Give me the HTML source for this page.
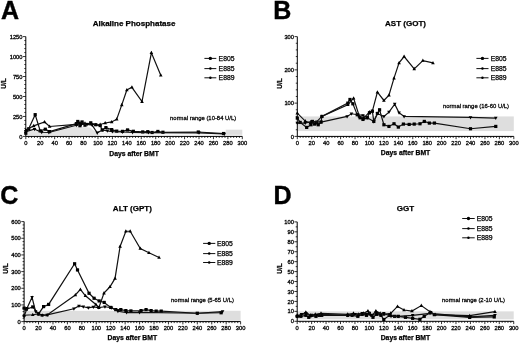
<!DOCTYPE html>
<html><head><meta charset="utf-8"><style>
html,body{margin:0;padding:0;background:#fff;}
body{width:520px;height:343px;overflow:hidden;}
svg{display:block;filter:grayscale(1) blur(0.45px);}
text{font-family:"Liberation Sans", sans-serif;fill:#000;}
.tk{font-size:6.0px;stroke:#000;stroke-width:0.3px;}
.let{font-size:25px;font-weight:bold;stroke:#000;stroke-width:0.4px;}
.ttl{font-size:8px;font-weight:bold;stroke:#000;stroke-width:0.25px;}
.xl{font-size:6.8px;font-weight:bold;stroke:#000;stroke-width:0.25px;}
.ul{font-size:6.5px;font-weight:bold;stroke:#000;stroke-width:0.25px;}
.nr{font-size:5.9px;stroke:#000;stroke-width:0.25px;}
.lg{font-size:6.8px;stroke:#000;stroke-width:0.25px;}
</style></head><body>
<svg width="520" height="343" viewBox="0 0 520 343">
<rect width="520" height="343" fill="#fff"/>
<rect x="225.71" y="129.69" width="16.60" height="5.11" fill="#dedede"/>
<rect x="97.25" y="132.4" width="128.46" height="2.2" fill="#f0f0f0"/>
<polygon points="26,135.5 26,131 47,131.5 72,126 90,127.5 97,133 100,135.5" fill="#e3e3e3"/>
<polyline points="25.80,133.21 28.69,128.82 35.18,114.68 40.23,130.89 45.29,129.21 49.62,131.61 76.32,123.63 77.76,121.47 79.93,125.70 82.09,121.95 84.98,125.22 90.75,122.83 95.80,124.74 100.14,125.54 102.30,130.01 105.91,127.62 111.68,129.61 116.73,131.13 122.51,131.37 127.56,129.93 133.33,131.29 142.72,131.93 147.77,131.69 152.10,132.49 157.87,131.45 162.92,132.25 198.29,132.01 223.55,133.53" fill="none" stroke="#111" stroke-width="1.2"/>
<rect x="24.20" y="131.61" width="3.2" height="3.2" fill="#000"/>
<rect x="27.09" y="127.22" width="3.2" height="3.2" fill="#000"/>
<rect x="33.58" y="113.08" width="3.2" height="3.2" fill="#000"/>
<rect x="38.63" y="129.29" width="3.2" height="3.2" fill="#000"/>
<rect x="43.69" y="127.61" width="3.2" height="3.2" fill="#000"/>
<rect x="48.02" y="130.01" width="3.2" height="3.2" fill="#000"/>
<rect x="74.72" y="122.03" width="3.2" height="3.2" fill="#000"/>
<rect x="76.16" y="119.87" width="3.2" height="3.2" fill="#000"/>
<rect x="78.33" y="124.10" width="3.2" height="3.2" fill="#000"/>
<rect x="80.49" y="120.35" width="3.2" height="3.2" fill="#000"/>
<rect x="83.38" y="123.62" width="3.2" height="3.2" fill="#000"/>
<rect x="89.15" y="121.23" width="3.2" height="3.2" fill="#000"/>
<rect x="94.20" y="123.14" width="3.2" height="3.2" fill="#000"/>
<rect x="98.54" y="123.94" width="3.2" height="3.2" fill="#000"/>
<rect x="100.70" y="128.41" width="3.2" height="3.2" fill="#000"/>
<rect x="104.31" y="126.02" width="3.2" height="3.2" fill="#000"/>
<rect x="110.08" y="128.01" width="3.2" height="3.2" fill="#000"/>
<rect x="115.13" y="129.53" width="3.2" height="3.2" fill="#000"/>
<rect x="120.91" y="129.77" width="3.2" height="3.2" fill="#000"/>
<rect x="125.96" y="128.33" width="3.2" height="3.2" fill="#000"/>
<rect x="131.73" y="129.69" width="3.2" height="3.2" fill="#000"/>
<rect x="141.12" y="130.33" width="3.2" height="3.2" fill="#000"/>
<rect x="146.17" y="130.09" width="3.2" height="3.2" fill="#000"/>
<rect x="150.50" y="130.89" width="3.2" height="3.2" fill="#000"/>
<rect x="156.27" y="129.85" width="3.2" height="3.2" fill="#000"/>
<rect x="161.32" y="130.65" width="3.2" height="3.2" fill="#000"/>
<rect x="196.69" y="130.41" width="3.2" height="3.2" fill="#000"/>
<rect x="221.95" y="131.93" width="3.2" height="3.2" fill="#000"/>
<polyline points="25.80,130.01 33.74,125.86 44.56,122.03 49.62,126.50 76.32,124.42 79.93,122.83 84.98,123.23 90.75,123.63 95.80,124.82 100.14,124.50 105.19,122.99 111.68,121.95 116.73,119.15 121.79,104.86 126.84,90.01 131.89,87.30 141.99,101.59 151.38,52.81 160.76,75.16" fill="none" stroke="#111" stroke-width="1.2"/>
<path d="M25.80,128.01 L27.60,131.31 L24.00,131.31Z" fill="#000"/>
<path d="M33.74,123.86 L35.54,127.16 L31.94,127.16Z" fill="#000"/>
<path d="M44.56,120.03 L46.36,123.33 L42.76,123.33Z" fill="#000"/>
<path d="M49.62,124.50 L51.42,127.80 L47.82,127.80Z" fill="#000"/>
<path d="M76.32,122.42 L78.12,125.72 L74.52,125.72Z" fill="#000"/>
<path d="M79.93,120.83 L81.73,124.13 L78.13,124.13Z" fill="#000"/>
<path d="M84.98,121.23 L86.78,124.53 L83.18,124.53Z" fill="#000"/>
<path d="M90.75,121.63 L92.55,124.93 L88.95,124.93Z" fill="#000"/>
<path d="M95.80,122.82 L97.60,126.12 L94.00,126.12Z" fill="#000"/>
<path d="M100.14,122.50 L101.94,125.80 L98.34,125.80Z" fill="#000"/>
<path d="M105.19,120.99 L106.99,124.29 L103.39,124.29Z" fill="#000"/>
<path d="M111.68,119.95 L113.48,123.25 L109.88,123.25Z" fill="#000"/>
<path d="M116.73,117.15 L118.53,120.45 L114.93,120.45Z" fill="#000"/>
<path d="M121.79,102.86 L123.59,106.16 L119.99,106.16Z" fill="#000"/>
<path d="M126.84,88.01 L128.64,91.31 L125.04,91.31Z" fill="#000"/>
<path d="M131.89,85.30 L133.69,88.60 L130.09,88.60Z" fill="#000"/>
<path d="M141.99,99.59 L143.79,102.89 L140.19,102.89Z" fill="#000"/>
<path d="M151.38,50.81 L153.18,54.11 L149.58,54.11Z" fill="#000"/>
<path d="M160.76,73.16 L162.56,76.46 L158.96,76.46Z" fill="#000"/>
<polyline points="25.80,131.61 34.46,129.21 41.68,132.25 48.89,132.49 76.32,125.22 81.37,124.42 87.14,124.42 92.20,125.22 97.25,132.89 102.30,130.01 107.35,130.81 112.40,131.61 122.51,132.01 132.61,132.41 148.49,132.57 199.01,132.81 224.27,134.00" fill="none" stroke="#111" stroke-width="1.2"/>
<path d="M25.80,133.61 L27.60,130.31 L24.00,130.31Z" fill="#000"/>
<path d="M34.46,131.21 L36.26,127.91 L32.66,127.91Z" fill="#000"/>
<path d="M41.68,134.25 L43.48,130.95 L39.88,130.95Z" fill="#000"/>
<path d="M48.89,134.49 L50.69,131.19 L47.09,131.19Z" fill="#000"/>
<path d="M76.32,127.22 L78.12,123.92 L74.52,123.92Z" fill="#000"/>
<path d="M81.37,126.42 L83.17,123.12 L79.57,123.12Z" fill="#000"/>
<path d="M87.14,126.42 L88.94,123.12 L85.34,123.12Z" fill="#000"/>
<path d="M92.20,127.22 L94.00,123.92 L90.40,123.92Z" fill="#000"/>
<path d="M97.25,134.89 L99.05,131.59 L95.45,131.59Z" fill="#000"/>
<path d="M102.30,132.01 L104.10,128.71 L100.50,128.71Z" fill="#000"/>
<path d="M107.35,132.81 L109.15,129.51 L105.55,129.51Z" fill="#000"/>
<path d="M112.40,133.61 L114.20,130.31 L110.60,130.31Z" fill="#000"/>
<path d="M122.51,134.01 L124.31,130.71 L120.71,130.71Z" fill="#000"/>
<path d="M132.61,134.41 L134.41,131.11 L130.81,131.11Z" fill="#000"/>
<path d="M148.49,134.57 L150.29,131.27 L146.69,131.27Z" fill="#000"/>
<path d="M199.01,134.81 L200.81,131.51 L197.21,131.51Z" fill="#000"/>
<path d="M224.27,136.00 L226.07,132.70 L222.47,132.70Z" fill="#000"/>
<path d="M25.80,36.60 V136.40 H242.31" fill="none" stroke="#000" stroke-width="1"/>
<text transform="translate(22.50,138.50) scale(0.96,1)" text-anchor="end" class="tk">0</text>
<text transform="translate(22.50,118.54) scale(0.96,1)" text-anchor="end" class="tk">250</text>
<text transform="translate(22.50,98.58) scale(0.96,1)" text-anchor="end" class="tk">500</text>
<text transform="translate(22.50,78.62) scale(0.96,1)" text-anchor="end" class="tk">750</text>
<text transform="translate(22.50,58.66) scale(0.96,1)" text-anchor="end" class="tk">1000</text>
<text transform="translate(22.50,38.70) scale(0.96,1)" text-anchor="end" class="tk">1250</text>
<text transform="translate(25.80,145.20) scale(0.96,1)" text-anchor="middle" class="tk">0</text>
<text transform="translate(40.23,145.20) scale(0.96,1)" text-anchor="middle" class="tk">20</text>
<text transform="translate(54.67,145.20) scale(0.96,1)" text-anchor="middle" class="tk">40</text>
<text transform="translate(69.10,145.20) scale(0.96,1)" text-anchor="middle" class="tk">60</text>
<text transform="translate(83.54,145.20) scale(0.96,1)" text-anchor="middle" class="tk">80</text>
<text transform="translate(97.97,145.20) scale(0.96,1)" text-anchor="middle" class="tk">100</text>
<text transform="translate(112.40,145.20) scale(0.96,1)" text-anchor="middle" class="tk">120</text>
<text transform="translate(126.84,145.20) scale(0.96,1)" text-anchor="middle" class="tk">140</text>
<text transform="translate(141.27,145.20) scale(0.96,1)" text-anchor="middle" class="tk">160</text>
<text transform="translate(155.71,145.20) scale(0.96,1)" text-anchor="middle" class="tk">180</text>
<text transform="translate(170.14,145.20) scale(0.96,1)" text-anchor="middle" class="tk">200</text>
<text transform="translate(184.57,145.20) scale(0.96,1)" text-anchor="middle" class="tk">220</text>
<text transform="translate(199.01,145.20) scale(0.96,1)" text-anchor="middle" class="tk">240</text>
<text transform="translate(213.44,145.20) scale(0.96,1)" text-anchor="middle" class="tk">260</text>
<text transform="translate(227.88,145.20) scale(0.96,1)" text-anchor="middle" class="tk">280</text>
<text transform="translate(242.31,145.20) scale(0.96,1)" text-anchor="middle" class="tk">300</text>
<path d="M23.00,136.40H25.80 M24.30,132.41H25.80 M24.30,128.42H25.80 M24.30,124.42H25.80 M24.30,120.43H25.80 M23.00,116.44H25.80 M24.30,112.45H25.80 M24.30,108.46H25.80 M24.30,104.46H25.80 M24.30,100.47H25.80 M23.00,96.48H25.80 M24.30,92.49H25.80 M24.30,88.50H25.80 M24.30,84.50H25.80 M24.30,80.51H25.80 M23.00,76.52H25.80 M24.30,72.53H25.80 M24.30,68.54H25.80 M24.30,64.54H25.80 M24.30,60.55H25.80 M23.00,56.56H25.80 M24.30,52.57H25.80 M24.30,48.58H25.80 M24.30,44.58H25.80 M24.30,40.59H25.80 M23.00,36.60H25.80 M25.80,136.40V139.20 M28.69,136.40V137.90 M31.57,136.40V137.90 M34.46,136.40V137.90 M37.35,136.40V137.90 M40.23,136.40V139.20 M43.12,136.40V137.90 M46.01,136.40V137.90 M48.89,136.40V137.90 M51.78,136.40V137.90 M54.67,136.40V139.20 M57.55,136.40V137.90 M60.44,136.40V137.90 M63.33,136.40V137.90 M66.22,136.40V137.90 M69.10,136.40V139.20 M71.99,136.40V137.90 M74.88,136.40V137.90 M77.76,136.40V137.90 M80.65,136.40V137.90 M83.54,136.40V139.20 M86.42,136.40V137.90 M89.31,136.40V137.90 M92.20,136.40V137.90 M95.08,136.40V137.90 M97.97,136.40V139.20 M100.86,136.40V137.90 M103.74,136.40V137.90 M106.63,136.40V137.90 M109.52,136.40V137.90 M112.40,136.40V139.20 M115.29,136.40V137.90 M118.18,136.40V137.90 M121.06,136.40V137.90 M123.95,136.40V137.90 M126.84,136.40V139.20 M129.72,136.40V137.90 M132.61,136.40V137.90 M135.50,136.40V137.90 M138.39,136.40V137.90 M141.27,136.40V139.20 M144.16,136.40V137.90 M147.05,136.40V137.90 M149.93,136.40V137.90 M152.82,136.40V137.90 M155.71,136.40V139.20 M158.59,136.40V137.90 M161.48,136.40V137.90 M164.37,136.40V137.90 M167.25,136.40V137.90 M170.14,136.40V139.20 M173.03,136.40V137.90 M175.91,136.40V137.90 M178.80,136.40V137.90 M181.69,136.40V137.90 M184.57,136.40V139.20 M187.46,136.40V137.90 M190.35,136.40V137.90 M193.23,136.40V137.90 M196.12,136.40V137.90 M199.01,136.40V139.20 M201.89,136.40V137.90 M204.78,136.40V137.90 M207.67,136.40V137.90 M210.56,136.40V137.90 M213.44,136.40V139.20 M216.33,136.40V137.90 M219.22,136.40V137.90 M222.10,136.40V137.90 M224.99,136.40V137.90 M227.88,136.40V139.20 M230.76,136.40V137.90 M233.65,136.40V137.90 M236.54,136.40V137.90 M239.42,136.40V137.90 M242.31,136.40V139.20" stroke="#000" stroke-width="0.8" fill="none"/>
<text x="1.0" y="19.3" class="let">A</text>
<text x="134.06" y="26.3" text-anchor="middle" class="ttl">Alkaline Phosphatase</text>
<text x="134.06" y="155.8" text-anchor="middle" class="xl">Days after BMT</text>
<text transform="translate(5.6,83.5) rotate(-90)" text-anchor="middle" class="ul">U/L</text>
<text transform="translate(170.1,120.0) scale(1,1.06)" class="nr">normal range (10-84 U/L)</text>
<path d="M204.4,58.4H216.3" stroke="#111" stroke-width="1"/>
<circle cx="210.35" cy="58.40" r="1.7" fill="#000"/>
<text x="218.6" y="60.80" class="lg">E805</text>
<path d="M204.4,68.6H216.3" stroke="#111" stroke-width="1"/>
<circle cx="210.35" cy="68.60" r="1.25" fill="#000"/>
<text x="218.6" y="71.00" class="lg">E885</text>
<path d="M204.4,77.8H216.3" stroke="#111" stroke-width="1"/>
<circle cx="210.35" cy="77.80" r="1.25" fill="#000"/>
<text x="218.6" y="80.20" class="lg">E889</text>
<rect x="297.30" y="116.44" width="216.51" height="14.64" fill="#dedede"/>
<polyline points="297.30,118.10 300.19,122.43 306.68,127.42 311.01,124.76 312.46,121.43 314.62,124.09 316.79,122.10 318.23,124.76 321.12,122.10 321.84,116.44 347.82,103.13 349.98,99.47 352.87,103.80 357.20,114.78 360.09,117.77 362.97,119.43 367.30,117.77 369.47,112.78 372.36,111.12 373.80,121.43 377.41,113.45 379.57,109.79 383.90,124.76 388.96,126.42 394.01,123.76 398.34,127.09 403.39,124.09 409.16,124.42 414.22,124.09 419.99,123.76 424.32,121.43 429.37,123.09 434.42,123.09 470.51,128.75 495.77,126.42" fill="none" stroke="#111" stroke-width="1.2"/>
<rect x="295.70" y="116.50" width="3.2" height="3.2" fill="#000"/>
<rect x="298.59" y="120.83" width="3.2" height="3.2" fill="#000"/>
<rect x="305.08" y="125.82" width="3.2" height="3.2" fill="#000"/>
<rect x="309.41" y="123.16" width="3.2" height="3.2" fill="#000"/>
<rect x="310.86" y="119.83" width="3.2" height="3.2" fill="#000"/>
<rect x="313.02" y="122.49" width="3.2" height="3.2" fill="#000"/>
<rect x="315.19" y="120.50" width="3.2" height="3.2" fill="#000"/>
<rect x="316.63" y="123.16" width="3.2" height="3.2" fill="#000"/>
<rect x="319.52" y="120.50" width="3.2" height="3.2" fill="#000"/>
<rect x="320.24" y="114.84" width="3.2" height="3.2" fill="#000"/>
<rect x="346.22" y="101.53" width="3.2" height="3.2" fill="#000"/>
<rect x="348.38" y="97.87" width="3.2" height="3.2" fill="#000"/>
<rect x="351.27" y="102.20" width="3.2" height="3.2" fill="#000"/>
<rect x="355.60" y="113.18" width="3.2" height="3.2" fill="#000"/>
<rect x="358.49" y="116.17" width="3.2" height="3.2" fill="#000"/>
<rect x="361.37" y="117.83" width="3.2" height="3.2" fill="#000"/>
<rect x="365.70" y="116.17" width="3.2" height="3.2" fill="#000"/>
<rect x="367.87" y="111.18" width="3.2" height="3.2" fill="#000"/>
<rect x="370.76" y="109.52" width="3.2" height="3.2" fill="#000"/>
<rect x="372.20" y="119.83" width="3.2" height="3.2" fill="#000"/>
<rect x="375.81" y="111.85" width="3.2" height="3.2" fill="#000"/>
<rect x="377.97" y="108.19" width="3.2" height="3.2" fill="#000"/>
<rect x="382.30" y="123.16" width="3.2" height="3.2" fill="#000"/>
<rect x="387.36" y="124.82" width="3.2" height="3.2" fill="#000"/>
<rect x="392.41" y="122.16" width="3.2" height="3.2" fill="#000"/>
<rect x="396.74" y="125.49" width="3.2" height="3.2" fill="#000"/>
<rect x="401.79" y="122.49" width="3.2" height="3.2" fill="#000"/>
<rect x="407.56" y="122.82" width="3.2" height="3.2" fill="#000"/>
<rect x="412.62" y="122.49" width="3.2" height="3.2" fill="#000"/>
<rect x="418.39" y="122.16" width="3.2" height="3.2" fill="#000"/>
<rect x="422.72" y="119.83" width="3.2" height="3.2" fill="#000"/>
<rect x="427.77" y="121.49" width="3.2" height="3.2" fill="#000"/>
<rect x="432.82" y="121.49" width="3.2" height="3.2" fill="#000"/>
<rect x="468.91" y="127.15" width="3.2" height="3.2" fill="#000"/>
<rect x="494.17" y="124.82" width="3.2" height="3.2" fill="#000"/>
<polyline points="297.30,113.11 305.24,121.10 310.29,123.09 315.34,123.09 321.84,116.44 347.82,104.80 353.59,98.14 359.37,116.44 363.70,118.10 369.47,112.12 372.36,111.12 377.41,92.16 383.90,100.47 388.96,95.15 394.01,78.18 399.06,62.88 404.11,56.56 414.22,68.87 422.88,60.55 432.98,62.88" fill="none" stroke="#111" stroke-width="1.2"/>
<path d="M297.30,111.11 L299.10,114.41 L295.50,114.41Z" fill="#000"/>
<path d="M305.24,119.10 L307.04,122.40 L303.44,122.40Z" fill="#000"/>
<path d="M310.29,121.09 L312.09,124.39 L308.49,124.39Z" fill="#000"/>
<path d="M315.34,121.09 L317.14,124.39 L313.54,124.39Z" fill="#000"/>
<path d="M321.84,114.44 L323.64,117.74 L320.04,117.74Z" fill="#000"/>
<path d="M347.82,102.80 L349.62,106.10 L346.02,106.10Z" fill="#000"/>
<path d="M353.59,96.14 L355.39,99.44 L351.79,99.44Z" fill="#000"/>
<path d="M359.37,114.44 L361.17,117.74 L357.57,117.74Z" fill="#000"/>
<path d="M363.70,116.10 L365.50,119.40 L361.90,119.40Z" fill="#000"/>
<path d="M369.47,110.12 L371.27,113.42 L367.67,113.42Z" fill="#000"/>
<path d="M372.36,109.12 L374.16,112.42 L370.56,112.42Z" fill="#000"/>
<path d="M377.41,90.16 L379.21,93.46 L375.61,93.46Z" fill="#000"/>
<path d="M383.90,98.47 L385.70,101.77 L382.10,101.77Z" fill="#000"/>
<path d="M388.96,93.15 L390.76,96.45 L387.16,96.45Z" fill="#000"/>
<path d="M394.01,76.18 L395.81,79.48 L392.21,79.48Z" fill="#000"/>
<path d="M399.06,60.88 L400.86,64.18 L397.26,64.18Z" fill="#000"/>
<path d="M404.11,54.56 L405.91,57.86 L402.31,57.86Z" fill="#000"/>
<path d="M414.22,66.87 L416.02,70.17 L412.42,70.17Z" fill="#000"/>
<path d="M422.88,58.55 L424.68,61.85 L421.08,61.85Z" fill="#000"/>
<path d="M432.98,60.88 L434.78,64.18 L431.18,64.18Z" fill="#000"/>
<polyline points="297.30,123.09 305.24,123.09 311.73,121.43 321.12,122.10 347.10,116.44 351.43,113.78 357.92,114.78 362.97,115.44 367.30,117.77 373.80,121.43 377.41,113.45 383.90,116.44 388.96,112.12 394.73,104.13 399.06,112.78 404.11,116.44 470.51,117.44 495.77,118.10" fill="none" stroke="#111" stroke-width="1.2"/>
<path d="M297.30,125.09 L299.10,121.79 L295.50,121.79Z" fill="#000"/>
<path d="M305.24,125.09 L307.04,121.79 L303.44,121.79Z" fill="#000"/>
<path d="M311.73,123.43 L313.53,120.13 L309.93,120.13Z" fill="#000"/>
<path d="M321.12,124.10 L322.92,120.80 L319.32,120.80Z" fill="#000"/>
<path d="M347.10,118.44 L348.90,115.14 L345.30,115.14Z" fill="#000"/>
<path d="M351.43,115.78 L353.23,112.48 L349.63,112.48Z" fill="#000"/>
<path d="M357.92,116.78 L359.72,113.48 L356.12,113.48Z" fill="#000"/>
<path d="M362.97,117.44 L364.77,114.14 L361.17,114.14Z" fill="#000"/>
<path d="M367.30,119.77 L369.10,116.47 L365.50,116.47Z" fill="#000"/>
<path d="M373.80,123.43 L375.60,120.13 L372.00,120.13Z" fill="#000"/>
<path d="M377.41,115.45 L379.21,112.15 L375.61,112.15Z" fill="#000"/>
<path d="M383.90,118.44 L385.70,115.14 L382.10,115.14Z" fill="#000"/>
<path d="M388.96,114.12 L390.76,110.82 L387.16,110.82Z" fill="#000"/>
<path d="M394.73,106.13 L396.53,102.83 L392.93,102.83Z" fill="#000"/>
<path d="M399.06,114.78 L400.86,111.48 L397.26,111.48Z" fill="#000"/>
<path d="M404.11,118.44 L405.91,115.14 L402.31,115.14Z" fill="#000"/>
<path d="M470.51,119.44 L472.31,116.14 L468.71,116.14Z" fill="#000"/>
<path d="M495.77,120.10 L497.57,116.80 L493.97,116.80Z" fill="#000"/>
<path d="M297.30,36.60 V136.40 H513.81" fill="none" stroke="#000" stroke-width="1"/>
<text transform="translate(294.00,138.50) scale(0.96,1)" text-anchor="end" class="tk">0</text>
<text transform="translate(294.00,105.23) scale(0.96,1)" text-anchor="end" class="tk">100</text>
<text transform="translate(294.00,71.97) scale(0.96,1)" text-anchor="end" class="tk">200</text>
<text transform="translate(294.00,38.70) scale(0.96,1)" text-anchor="end" class="tk">300</text>
<text transform="translate(297.30,145.20) scale(0.96,1)" text-anchor="middle" class="tk">0</text>
<text transform="translate(311.73,145.20) scale(0.96,1)" text-anchor="middle" class="tk">20</text>
<text transform="translate(326.17,145.20) scale(0.96,1)" text-anchor="middle" class="tk">40</text>
<text transform="translate(340.60,145.20) scale(0.96,1)" text-anchor="middle" class="tk">60</text>
<text transform="translate(355.04,145.20) scale(0.96,1)" text-anchor="middle" class="tk">80</text>
<text transform="translate(369.47,145.20) scale(0.96,1)" text-anchor="middle" class="tk">100</text>
<text transform="translate(383.90,145.20) scale(0.96,1)" text-anchor="middle" class="tk">120</text>
<text transform="translate(398.34,145.20) scale(0.96,1)" text-anchor="middle" class="tk">140</text>
<text transform="translate(412.77,145.20) scale(0.96,1)" text-anchor="middle" class="tk">160</text>
<text transform="translate(427.21,145.20) scale(0.96,1)" text-anchor="middle" class="tk">180</text>
<text transform="translate(441.64,145.20) scale(0.96,1)" text-anchor="middle" class="tk">200</text>
<text transform="translate(456.07,145.20) scale(0.96,1)" text-anchor="middle" class="tk">220</text>
<text transform="translate(470.51,145.20) scale(0.96,1)" text-anchor="middle" class="tk">240</text>
<text transform="translate(484.94,145.20) scale(0.96,1)" text-anchor="middle" class="tk">260</text>
<text transform="translate(499.38,145.20) scale(0.96,1)" text-anchor="middle" class="tk">280</text>
<text transform="translate(513.81,145.20) scale(0.96,1)" text-anchor="middle" class="tk">300</text>
<path d="M294.50,136.40H297.30 M295.80,129.75H297.30 M295.80,123.09H297.30 M295.80,116.44H297.30 M295.80,109.79H297.30 M294.50,103.13H297.30 M295.80,96.48H297.30 M295.80,89.83H297.30 M295.80,83.17H297.30 M295.80,76.52H297.30 M294.50,69.87H297.30 M295.80,63.21H297.30 M295.80,56.56H297.30 M295.80,49.91H297.30 M295.80,43.25H297.30 M294.50,36.60H297.30 M297.30,136.40V139.20 M300.19,136.40V137.90 M303.07,136.40V137.90 M305.96,136.40V137.90 M308.85,136.40V137.90 M311.73,136.40V139.20 M314.62,136.40V137.90 M317.51,136.40V137.90 M320.39,136.40V137.90 M323.28,136.40V137.90 M326.17,136.40V139.20 M329.05,136.40V137.90 M331.94,136.40V137.90 M334.83,136.40V137.90 M337.72,136.40V137.90 M340.60,136.40V139.20 M343.49,136.40V137.90 M346.38,136.40V137.90 M349.26,136.40V137.90 M352.15,136.40V137.90 M355.04,136.40V139.20 M357.92,136.40V137.90 M360.81,136.40V137.90 M363.70,136.40V137.90 M366.58,136.40V137.90 M369.47,136.40V139.20 M372.36,136.40V137.90 M375.24,136.40V137.90 M378.13,136.40V137.90 M381.02,136.40V137.90 M383.90,136.40V139.20 M386.79,136.40V137.90 M389.68,136.40V137.90 M392.56,136.40V137.90 M395.45,136.40V137.90 M398.34,136.40V139.20 M401.22,136.40V137.90 M404.11,136.40V137.90 M407.00,136.40V137.90 M409.89,136.40V137.90 M412.77,136.40V139.20 M415.66,136.40V137.90 M418.55,136.40V137.90 M421.43,136.40V137.90 M424.32,136.40V137.90 M427.21,136.40V139.20 M430.09,136.40V137.90 M432.98,136.40V137.90 M435.87,136.40V137.90 M438.75,136.40V137.90 M441.64,136.40V139.20 M444.53,136.40V137.90 M447.41,136.40V137.90 M450.30,136.40V137.90 M453.19,136.40V137.90 M456.07,136.40V139.20 M458.96,136.40V137.90 M461.85,136.40V137.90 M464.73,136.40V137.90 M467.62,136.40V137.90 M470.51,136.40V139.20 M473.39,136.40V137.90 M476.28,136.40V137.90 M479.17,136.40V137.90 M482.06,136.40V137.90 M484.94,136.40V139.20 M487.83,136.40V137.90 M490.72,136.40V137.90 M493.60,136.40V137.90 M496.49,136.40V137.90 M499.38,136.40V139.20 M502.26,136.40V137.90 M505.15,136.40V137.90 M508.04,136.40V137.90 M510.92,136.40V137.90 M513.81,136.40V139.20" stroke="#000" stroke-width="0.8" fill="none"/>
<text x="273.3" y="18.8" class="let">B</text>
<text x="405.55" y="25.8" text-anchor="middle" class="ttl">AST (GOT)</text>
<text x="405.55" y="155.4" text-anchor="middle" class="xl">Days after BMT</text>
<text transform="translate(281.6,83.5) rotate(-90)" text-anchor="middle" class="ul">U/L</text>
<text transform="translate(443.0,107.5) scale(1,1.06)" class="nr">normal range (16-60 U/L)</text>
<path d="M476.4,58.4H488.5" stroke="#111" stroke-width="1"/>
<circle cx="482.45" cy="58.40" r="1.7" fill="#000"/>
<text x="490.7" y="60.80" class="lg">E805</text>
<path d="M476.4,68.6H488.5" stroke="#111" stroke-width="1"/>
<circle cx="482.45" cy="68.60" r="1.25" fill="#000"/>
<text x="490.7" y="71.00" class="lg">E885</text>
<path d="M476.4,77.8H488.5" stroke="#111" stroke-width="1"/>
<circle cx="482.45" cy="77.80" r="1.25" fill="#000"/>
<text x="490.7" y="80.20" class="lg">E889</text>
<rect x="24.10" y="310.77" width="216.51" height="10.00" fill="#dedede"/>
<polyline points="24.10,308.10 26.27,309.27 32.76,306.93 38.53,313.93 43.59,306.60 48.64,304.43 74.62,263.77 77.51,269.93 89.05,293.27 94.10,298.27 99.16,300.93 104.21,302.43 110.70,307.43 115.76,309.60 120.81,309.60 125.86,310.60 130.91,310.93 141.02,310.60 146.07,309.60 151.12,310.60 156.17,311.10 161.22,311.10 197.31,313.27 221.12,312.77" fill="none" stroke="#111" stroke-width="1.2"/>
<rect x="22.50" y="306.50" width="3.2" height="3.2" fill="#000"/>
<rect x="24.67" y="307.67" width="3.2" height="3.2" fill="#000"/>
<rect x="31.16" y="305.33" width="3.2" height="3.2" fill="#000"/>
<rect x="36.93" y="312.33" width="3.2" height="3.2" fill="#000"/>
<rect x="41.99" y="305.00" width="3.2" height="3.2" fill="#000"/>
<rect x="47.04" y="302.83" width="3.2" height="3.2" fill="#000"/>
<rect x="73.02" y="262.17" width="3.2" height="3.2" fill="#000"/>
<rect x="75.91" y="268.33" width="3.2" height="3.2" fill="#000"/>
<rect x="87.45" y="291.67" width="3.2" height="3.2" fill="#000"/>
<rect x="92.50" y="296.67" width="3.2" height="3.2" fill="#000"/>
<rect x="97.56" y="299.33" width="3.2" height="3.2" fill="#000"/>
<rect x="102.61" y="300.83" width="3.2" height="3.2" fill="#000"/>
<rect x="109.10" y="305.83" width="3.2" height="3.2" fill="#000"/>
<rect x="114.16" y="308.00" width="3.2" height="3.2" fill="#000"/>
<rect x="119.21" y="308.00" width="3.2" height="3.2" fill="#000"/>
<rect x="124.26" y="309.00" width="3.2" height="3.2" fill="#000"/>
<rect x="129.31" y="309.33" width="3.2" height="3.2" fill="#000"/>
<rect x="139.42" y="309.00" width="3.2" height="3.2" fill="#000"/>
<rect x="144.47" y="308.00" width="3.2" height="3.2" fill="#000"/>
<rect x="149.52" y="309.00" width="3.2" height="3.2" fill="#000"/>
<rect x="154.57" y="309.50" width="3.2" height="3.2" fill="#000"/>
<rect x="159.62" y="309.50" width="3.2" height="3.2" fill="#000"/>
<rect x="195.71" y="311.67" width="3.2" height="3.2" fill="#000"/>
<rect x="219.52" y="311.17" width="3.2" height="3.2" fill="#000"/>
<polyline points="24.10,315.27 32.76,314.77 38.53,313.93 42.14,315.27 47.19,314.93 75.34,294.93 80.39,289.43 85.44,295.77 95.91,304.43 98.87,307.60 103.99,293.10 109.98,286.77 115.03,278.43 120.09,246.43 125.86,231.27 130.19,231.27 140.29,248.43 148.95,252.77 159.06,257.43" fill="none" stroke="#111" stroke-width="1.2"/>
<path d="M24.10,313.27 L25.90,316.57 L22.30,316.57Z" fill="#000"/>
<path d="M32.76,312.77 L34.56,316.07 L30.96,316.07Z" fill="#000"/>
<path d="M38.53,311.93 L40.33,315.23 L36.73,315.23Z" fill="#000"/>
<path d="M42.14,313.27 L43.94,316.57 L40.34,316.57Z" fill="#000"/>
<path d="M47.19,312.93 L48.99,316.23 L45.39,316.23Z" fill="#000"/>
<path d="M75.34,292.93 L77.14,296.23 L73.54,296.23Z" fill="#000"/>
<path d="M80.39,287.43 L82.19,290.73 L78.59,290.73Z" fill="#000"/>
<path d="M85.44,293.77 L87.24,297.07 L83.64,297.07Z" fill="#000"/>
<path d="M95.91,302.43 L97.71,305.73 L94.11,305.73Z" fill="#000"/>
<path d="M98.87,305.60 L100.67,308.90 L97.07,308.90Z" fill="#000"/>
<path d="M103.99,291.10 L105.79,294.40 L102.19,294.40Z" fill="#000"/>
<path d="M109.98,284.77 L111.78,288.07 L108.18,288.07Z" fill="#000"/>
<path d="M115.03,276.43 L116.83,279.73 L113.23,279.73Z" fill="#000"/>
<path d="M120.09,244.43 L121.89,247.73 L118.29,247.73Z" fill="#000"/>
<path d="M125.86,229.27 L127.66,232.57 L124.06,232.57Z" fill="#000"/>
<path d="M130.19,229.27 L131.99,232.57 L128.39,232.57Z" fill="#000"/>
<path d="M140.29,246.43 L142.09,249.73 L138.49,249.73Z" fill="#000"/>
<path d="M148.95,250.77 L150.75,254.07 L147.15,254.07Z" fill="#000"/>
<path d="M159.06,255.43 L160.86,258.73 L157.26,258.73Z" fill="#000"/>
<polyline points="24.10,316.60 26.99,308.27 32.04,297.27 35.65,311.60 38.53,313.93 42.14,315.27 47.19,314.93 73.90,308.77 78.95,305.93 83.28,306.77 88.33,307.77 93.38,306.93 98.44,307.60 104.93,306.77 111.43,307.77 117.92,311.27 126.58,312.60 139.57,312.43 197.31,313.27 222.57,311.60" fill="none" stroke="#111" stroke-width="1.2"/>
<path d="M24.10,318.60 L25.90,315.30 L22.30,315.30Z" fill="#000"/>
<path d="M26.99,310.27 L28.79,306.97 L25.19,306.97Z" fill="#000"/>
<path d="M32.04,299.27 L33.84,295.97 L30.24,295.97Z" fill="#000"/>
<path d="M35.65,313.60 L37.45,310.30 L33.85,310.30Z" fill="#000"/>
<path d="M38.53,315.93 L40.33,312.63 L36.73,312.63Z" fill="#000"/>
<path d="M42.14,317.27 L43.94,313.97 L40.34,313.97Z" fill="#000"/>
<path d="M47.19,316.93 L48.99,313.63 L45.39,313.63Z" fill="#000"/>
<path d="M73.90,310.77 L75.70,307.47 L72.10,307.47Z" fill="#000"/>
<path d="M78.95,307.93 L80.75,304.63 L77.15,304.63Z" fill="#000"/>
<path d="M83.28,308.77 L85.08,305.47 L81.48,305.47Z" fill="#000"/>
<path d="M88.33,309.77 L90.13,306.47 L86.53,306.47Z" fill="#000"/>
<path d="M93.38,308.93 L95.18,305.63 L91.58,305.63Z" fill="#000"/>
<path d="M98.44,309.60 L100.24,306.30 L96.64,306.30Z" fill="#000"/>
<path d="M104.93,308.77 L106.73,305.47 L103.13,305.47Z" fill="#000"/>
<path d="M111.43,309.77 L113.23,306.47 L109.63,306.47Z" fill="#000"/>
<path d="M117.92,313.27 L119.72,309.97 L116.12,309.97Z" fill="#000"/>
<path d="M126.58,314.60 L128.38,311.30 L124.78,311.30Z" fill="#000"/>
<path d="M139.57,314.43 L141.37,311.13 L137.77,311.13Z" fill="#000"/>
<path d="M197.31,315.27 L199.11,311.97 L195.51,311.97Z" fill="#000"/>
<path d="M222.57,313.60 L224.37,310.30 L220.77,310.30Z" fill="#000"/>
<path d="M24.10,221.60 V321.60 H240.61" fill="none" stroke="#000" stroke-width="1"/>
<text transform="translate(20.80,323.70) scale(0.96,1)" text-anchor="end" class="tk">0</text>
<text transform="translate(20.80,307.03) scale(0.96,1)" text-anchor="end" class="tk">100</text>
<text transform="translate(20.80,290.37) scale(0.96,1)" text-anchor="end" class="tk">200</text>
<text transform="translate(20.80,273.70) scale(0.96,1)" text-anchor="end" class="tk">300</text>
<text transform="translate(20.80,257.03) scale(0.96,1)" text-anchor="end" class="tk">400</text>
<text transform="translate(20.80,240.37) scale(0.96,1)" text-anchor="end" class="tk">500</text>
<text transform="translate(20.80,223.70) scale(0.96,1)" text-anchor="end" class="tk">600</text>
<text transform="translate(24.10,330.40) scale(0.96,1)" text-anchor="middle" class="tk">0</text>
<text transform="translate(38.53,330.40) scale(0.96,1)" text-anchor="middle" class="tk">20</text>
<text transform="translate(52.97,330.40) scale(0.96,1)" text-anchor="middle" class="tk">40</text>
<text transform="translate(67.40,330.40) scale(0.96,1)" text-anchor="middle" class="tk">60</text>
<text transform="translate(81.84,330.40) scale(0.96,1)" text-anchor="middle" class="tk">80</text>
<text transform="translate(96.27,330.40) scale(0.96,1)" text-anchor="middle" class="tk">100</text>
<text transform="translate(110.70,330.40) scale(0.96,1)" text-anchor="middle" class="tk">120</text>
<text transform="translate(125.14,330.40) scale(0.96,1)" text-anchor="middle" class="tk">140</text>
<text transform="translate(139.57,330.40) scale(0.96,1)" text-anchor="middle" class="tk">160</text>
<text transform="translate(154.01,330.40) scale(0.96,1)" text-anchor="middle" class="tk">180</text>
<text transform="translate(168.44,330.40) scale(0.96,1)" text-anchor="middle" class="tk">200</text>
<text transform="translate(182.87,330.40) scale(0.96,1)" text-anchor="middle" class="tk">220</text>
<text transform="translate(197.31,330.40) scale(0.96,1)" text-anchor="middle" class="tk">240</text>
<text transform="translate(211.74,330.40) scale(0.96,1)" text-anchor="middle" class="tk">260</text>
<text transform="translate(226.18,330.40) scale(0.96,1)" text-anchor="middle" class="tk">280</text>
<text transform="translate(240.61,330.40) scale(0.96,1)" text-anchor="middle" class="tk">300</text>
<path d="M21.30,321.60H24.10 M22.60,318.27H24.10 M22.60,314.93H24.10 M22.60,311.60H24.10 M22.60,308.27H24.10 M21.30,304.93H24.10 M22.60,301.60H24.10 M22.60,298.27H24.10 M22.60,294.93H24.10 M22.60,291.60H24.10 M21.30,288.27H24.10 M22.60,284.93H24.10 M22.60,281.60H24.10 M22.60,278.27H24.10 M22.60,274.93H24.10 M21.30,271.60H24.10 M22.60,268.27H24.10 M22.60,264.93H24.10 M22.60,261.60H24.10 M22.60,258.27H24.10 M21.30,254.93H24.10 M22.60,251.60H24.10 M22.60,248.27H24.10 M22.60,244.93H24.10 M22.60,241.60H24.10 M21.30,238.27H24.10 M22.60,234.93H24.10 M22.60,231.60H24.10 M22.60,228.27H24.10 M22.60,224.93H24.10 M21.30,221.60H24.10 M24.10,321.60V324.40 M26.99,321.60V323.10 M29.87,321.60V323.10 M32.76,321.60V323.10 M35.65,321.60V323.10 M38.53,321.60V324.40 M41.42,321.60V323.10 M44.31,321.60V323.10 M47.19,321.60V323.10 M50.08,321.60V323.10 M52.97,321.60V324.40 M55.85,321.60V323.10 M58.74,321.60V323.10 M61.63,321.60V323.10 M64.52,321.60V323.10 M67.40,321.60V324.40 M70.29,321.60V323.10 M73.18,321.60V323.10 M76.06,321.60V323.10 M78.95,321.60V323.10 M81.84,321.60V324.40 M84.72,321.60V323.10 M87.61,321.60V323.10 M90.50,321.60V323.10 M93.38,321.60V323.10 M96.27,321.60V324.40 M99.16,321.60V323.10 M102.04,321.60V323.10 M104.93,321.60V323.10 M107.82,321.60V323.10 M110.70,321.60V324.40 M113.59,321.60V323.10 M116.48,321.60V323.10 M119.36,321.60V323.10 M122.25,321.60V323.10 M125.14,321.60V324.40 M128.02,321.60V323.10 M130.91,321.60V323.10 M133.80,321.60V323.10 M136.69,321.60V323.10 M139.57,321.60V324.40 M142.46,321.60V323.10 M145.35,321.60V323.10 M148.23,321.60V323.10 M151.12,321.60V323.10 M154.01,321.60V324.40 M156.89,321.60V323.10 M159.78,321.60V323.10 M162.67,321.60V323.10 M165.55,321.60V323.10 M168.44,321.60V324.40 M171.33,321.60V323.10 M174.21,321.60V323.10 M177.10,321.60V323.10 M179.99,321.60V323.10 M182.87,321.60V324.40 M185.76,321.60V323.10 M188.65,321.60V323.10 M191.53,321.60V323.10 M194.42,321.60V323.10 M197.31,321.60V324.40 M200.19,321.60V323.10 M203.08,321.60V323.10 M205.97,321.60V323.10 M208.86,321.60V323.10 M211.74,321.60V324.40 M214.63,321.60V323.10 M217.52,321.60V323.10 M220.40,321.60V323.10 M223.29,321.60V323.10 M226.18,321.60V324.40 M229.06,321.60V323.10 M231.95,321.60V323.10 M234.84,321.60V323.10 M237.72,321.60V323.10 M240.61,321.60V324.40" stroke="#000" stroke-width="0.8" fill="none"/>
<text x="0.2" y="203.7" class="let">C</text>
<text x="132.35" y="211.2" text-anchor="middle" class="ttl">ALT (GPT)</text>
<text x="132.35" y="340.4" text-anchor="middle" class="xl">Days after BMT</text>
<text transform="translate(8.2,268.4) rotate(-90)" text-anchor="middle" class="ul">U/L</text>
<text transform="translate(171.1,302.3) scale(1,1.06)" class="nr">normal range (5-65 U/L)</text>
<path d="M203.1,243.4H215.3" stroke="#111" stroke-width="1"/>
<circle cx="209.20" cy="243.40" r="1.7" fill="#000"/>
<text x="217.0" y="245.80" class="lg">E805</text>
<path d="M203.1,253.6H215.3" stroke="#111" stroke-width="1"/>
<circle cx="209.20" cy="253.60" r="1.25" fill="#000"/>
<text x="217.0" y="256.00" class="lg">E885</text>
<path d="M203.1,262.5H215.3" stroke="#111" stroke-width="1"/>
<circle cx="209.20" cy="262.50" r="1.25" fill="#000"/>
<text x="217.0" y="264.90" class="lg">E889</text>
<rect x="297.20" y="311.36" width="216.51" height="7.95" fill="#dedede"/>
<polyline points="297.20,316.33 300.81,316.33 305.86,315.34 308.75,317.32 311.63,315.34 315.96,316.33 319.57,315.34 321.74,315.34 347.72,315.34 352.05,315.34 357.82,316.33 362.15,314.34 366.48,315.34 369.37,313.35 372.98,317.32 376.59,314.34 380.92,315.34 383.80,319.51 389.58,315.34 394.63,316.33 398.24,316.33 405.45,317.32 412.67,318.32 419.89,319.31 424.22,316.33 430.71,312.55 434.32,314.64 469.69,317.42 494.22,316.93" fill="none" stroke="#111" stroke-width="1.2"/>
<rect x="295.60" y="314.73" width="3.2" height="3.2" fill="#000"/>
<rect x="299.21" y="314.73" width="3.2" height="3.2" fill="#000"/>
<rect x="304.26" y="313.74" width="3.2" height="3.2" fill="#000"/>
<rect x="307.15" y="315.72" width="3.2" height="3.2" fill="#000"/>
<rect x="310.03" y="313.74" width="3.2" height="3.2" fill="#000"/>
<rect x="314.36" y="314.73" width="3.2" height="3.2" fill="#000"/>
<rect x="317.97" y="313.74" width="3.2" height="3.2" fill="#000"/>
<rect x="320.14" y="313.74" width="3.2" height="3.2" fill="#000"/>
<rect x="346.12" y="313.74" width="3.2" height="3.2" fill="#000"/>
<rect x="350.45" y="313.74" width="3.2" height="3.2" fill="#000"/>
<rect x="356.22" y="314.73" width="3.2" height="3.2" fill="#000"/>
<rect x="360.55" y="312.74" width="3.2" height="3.2" fill="#000"/>
<rect x="364.88" y="313.74" width="3.2" height="3.2" fill="#000"/>
<rect x="367.77" y="311.75" width="3.2" height="3.2" fill="#000"/>
<rect x="371.38" y="315.72" width="3.2" height="3.2" fill="#000"/>
<rect x="374.99" y="312.74" width="3.2" height="3.2" fill="#000"/>
<rect x="379.32" y="313.74" width="3.2" height="3.2" fill="#000"/>
<rect x="382.20" y="317.91" width="3.2" height="3.2" fill="#000"/>
<rect x="387.98" y="313.74" width="3.2" height="3.2" fill="#000"/>
<rect x="393.03" y="314.73" width="3.2" height="3.2" fill="#000"/>
<rect x="396.64" y="314.73" width="3.2" height="3.2" fill="#000"/>
<rect x="403.85" y="315.72" width="3.2" height="3.2" fill="#000"/>
<rect x="411.07" y="316.72" width="3.2" height="3.2" fill="#000"/>
<rect x="418.29" y="317.71" width="3.2" height="3.2" fill="#000"/>
<rect x="422.62" y="314.73" width="3.2" height="3.2" fill="#000"/>
<rect x="429.11" y="310.95" width="3.2" height="3.2" fill="#000"/>
<rect x="432.72" y="313.04" width="3.2" height="3.2" fill="#000"/>
<rect x="468.09" y="315.82" width="3.2" height="3.2" fill="#000"/>
<rect x="492.62" y="315.33" width="3.2" height="3.2" fill="#000"/>
<polyline points="297.20,315.34 300.81,315.34 305.86,312.16 310.19,315.34 315.24,314.34 321.02,313.35 347.72,314.34 353.49,313.35 358.54,314.34 363.60,313.35 367.93,311.06 372.26,315.34 375.87,311.06 380.20,313.35 383.80,314.34 390.66,313.35 397.52,306.39 404.01,309.97 411.95,311.06 421.33,305.59 429.99,311.76 435.04,314.54 469.69,315.63 494.95,311.66" fill="none" stroke="#111" stroke-width="1.2"/>
<path d="M297.20,313.34 L299.00,316.64 L295.40,316.64Z" fill="#000"/>
<path d="M300.81,313.34 L302.61,316.64 L299.01,316.64Z" fill="#000"/>
<path d="M305.86,310.16 L307.66,313.46 L304.06,313.46Z" fill="#000"/>
<path d="M310.19,313.34 L311.99,316.64 L308.39,316.64Z" fill="#000"/>
<path d="M315.24,312.34 L317.04,315.64 L313.44,315.64Z" fill="#000"/>
<path d="M321.02,311.35 L322.82,314.65 L319.22,314.65Z" fill="#000"/>
<path d="M347.72,312.34 L349.52,315.64 L345.92,315.64Z" fill="#000"/>
<path d="M353.49,311.35 L355.29,314.65 L351.69,314.65Z" fill="#000"/>
<path d="M358.54,312.34 L360.34,315.64 L356.74,315.64Z" fill="#000"/>
<path d="M363.60,311.35 L365.40,314.65 L361.80,314.65Z" fill="#000"/>
<path d="M367.93,309.06 L369.73,312.36 L366.13,312.36Z" fill="#000"/>
<path d="M372.26,313.34 L374.06,316.64 L370.46,316.64Z" fill="#000"/>
<path d="M375.87,309.06 L377.67,312.36 L374.07,312.36Z" fill="#000"/>
<path d="M380.20,311.35 L382.00,314.65 L378.40,314.65Z" fill="#000"/>
<path d="M383.80,312.34 L385.60,315.64 L382.00,315.64Z" fill="#000"/>
<path d="M390.66,311.35 L392.46,314.65 L388.86,314.65Z" fill="#000"/>
<path d="M397.52,304.39 L399.32,307.69 L395.72,307.69Z" fill="#000"/>
<path d="M404.01,307.97 L405.81,311.27 L402.21,311.27Z" fill="#000"/>
<path d="M411.95,309.06 L413.75,312.36 L410.15,312.36Z" fill="#000"/>
<path d="M421.33,303.59 L423.13,306.89 L419.53,306.89Z" fill="#000"/>
<path d="M429.99,309.76 L431.79,313.06 L428.19,313.06Z" fill="#000"/>
<path d="M435.04,312.54 L436.84,315.84 L433.24,315.84Z" fill="#000"/>
<path d="M469.69,313.63 L471.49,316.93 L467.89,316.93Z" fill="#000"/>
<path d="M494.95,309.66 L496.75,312.96 L493.15,312.96Z" fill="#000"/>
<polyline points="297.20,316.33 301.53,314.34 305.86,313.35 310.91,316.33 316.69,315.34 321.74,314.34 347.72,315.34 354.94,314.34 362.15,313.35 366.48,314.34 370.81,315.34 376.59,313.35 383.80,313.35 391.02,316.33 398.24,316.33 412.67,315.34 429.99,313.35 470.41,316.83 494.95,315.34" fill="none" stroke="#111" stroke-width="1.2"/>
<path d="M297.20,318.33 L299.00,315.03 L295.40,315.03Z" fill="#000"/>
<path d="M301.53,316.34 L303.33,313.04 L299.73,313.04Z" fill="#000"/>
<path d="M305.86,315.35 L307.66,312.05 L304.06,312.05Z" fill="#000"/>
<path d="M310.91,318.33 L312.71,315.03 L309.11,315.03Z" fill="#000"/>
<path d="M316.69,317.34 L318.49,314.04 L314.89,314.04Z" fill="#000"/>
<path d="M321.74,316.34 L323.54,313.04 L319.94,313.04Z" fill="#000"/>
<path d="M347.72,317.34 L349.52,314.04 L345.92,314.04Z" fill="#000"/>
<path d="M354.94,316.34 L356.74,313.04 L353.14,313.04Z" fill="#000"/>
<path d="M362.15,315.35 L363.95,312.05 L360.35,312.05Z" fill="#000"/>
<path d="M366.48,316.34 L368.28,313.04 L364.68,313.04Z" fill="#000"/>
<path d="M370.81,317.34 L372.61,314.04 L369.01,314.04Z" fill="#000"/>
<path d="M376.59,315.35 L378.39,312.05 L374.79,312.05Z" fill="#000"/>
<path d="M383.80,315.35 L385.60,312.05 L382.00,312.05Z" fill="#000"/>
<path d="M391.02,318.33 L392.82,315.03 L389.22,315.03Z" fill="#000"/>
<path d="M398.24,318.33 L400.04,315.03 L396.44,315.03Z" fill="#000"/>
<path d="M412.67,317.34 L414.47,314.04 L410.87,314.04Z" fill="#000"/>
<path d="M429.99,315.35 L431.79,312.05 L428.19,312.05Z" fill="#000"/>
<path d="M470.41,318.83 L472.21,315.53 L468.61,315.53Z" fill="#000"/>
<path d="M494.95,317.34 L496.75,314.04 L493.15,314.04Z" fill="#000"/>
<path d="M297.20,221.90 V321.30 H513.71" fill="none" stroke="#000" stroke-width="1"/>
<text transform="translate(293.90,323.40) scale(0.96,1)" text-anchor="end" class="tk">0</text>
<text transform="translate(293.90,313.46) scale(0.96,1)" text-anchor="end" class="tk">10</text>
<text transform="translate(293.90,303.52) scale(0.96,1)" text-anchor="end" class="tk">20</text>
<text transform="translate(293.90,293.58) scale(0.96,1)" text-anchor="end" class="tk">30</text>
<text transform="translate(293.90,283.64) scale(0.96,1)" text-anchor="end" class="tk">40</text>
<text transform="translate(293.90,273.70) scale(0.96,1)" text-anchor="end" class="tk">50</text>
<text transform="translate(293.90,263.76) scale(0.96,1)" text-anchor="end" class="tk">60</text>
<text transform="translate(293.90,253.82) scale(0.96,1)" text-anchor="end" class="tk">70</text>
<text transform="translate(293.90,243.88) scale(0.96,1)" text-anchor="end" class="tk">80</text>
<text transform="translate(293.90,233.94) scale(0.96,1)" text-anchor="end" class="tk">90</text>
<text transform="translate(293.90,224.00) scale(0.96,1)" text-anchor="end" class="tk">100</text>
<text transform="translate(297.20,330.10) scale(0.96,1)" text-anchor="middle" class="tk">0</text>
<text transform="translate(311.63,330.10) scale(0.96,1)" text-anchor="middle" class="tk">20</text>
<text transform="translate(326.07,330.10) scale(0.96,1)" text-anchor="middle" class="tk">40</text>
<text transform="translate(340.50,330.10) scale(0.96,1)" text-anchor="middle" class="tk">60</text>
<text transform="translate(354.94,330.10) scale(0.96,1)" text-anchor="middle" class="tk">80</text>
<text transform="translate(369.37,330.10) scale(0.96,1)" text-anchor="middle" class="tk">100</text>
<text transform="translate(383.80,330.10) scale(0.96,1)" text-anchor="middle" class="tk">120</text>
<text transform="translate(398.24,330.10) scale(0.96,1)" text-anchor="middle" class="tk">140</text>
<text transform="translate(412.67,330.10) scale(0.96,1)" text-anchor="middle" class="tk">160</text>
<text transform="translate(427.11,330.10) scale(0.96,1)" text-anchor="middle" class="tk">180</text>
<text transform="translate(441.54,330.10) scale(0.96,1)" text-anchor="middle" class="tk">200</text>
<text transform="translate(455.97,330.10) scale(0.96,1)" text-anchor="middle" class="tk">220</text>
<text transform="translate(470.41,330.10) scale(0.96,1)" text-anchor="middle" class="tk">240</text>
<text transform="translate(484.84,330.10) scale(0.96,1)" text-anchor="middle" class="tk">260</text>
<text transform="translate(499.28,330.10) scale(0.96,1)" text-anchor="middle" class="tk">280</text>
<text transform="translate(513.71,330.10) scale(0.96,1)" text-anchor="middle" class="tk">300</text>
<path d="M294.40,321.30H297.20 M295.70,316.33H297.20 M294.40,311.36H297.20 M295.70,306.39H297.20 M294.40,301.42H297.20 M295.70,296.45H297.20 M294.40,291.48H297.20 M295.70,286.51H297.20 M294.40,281.54H297.20 M295.70,276.57H297.20 M294.40,271.60H297.20 M295.70,266.63H297.20 M294.40,261.66H297.20 M295.70,256.69H297.20 M294.40,251.72H297.20 M295.70,246.75H297.20 M294.40,241.78H297.20 M295.70,236.81H297.20 M294.40,231.84H297.20 M295.70,226.87H297.20 M294.40,221.90H297.20 M297.20,321.30V324.10 M300.09,321.30V322.80 M302.97,321.30V322.80 M305.86,321.30V322.80 M308.75,321.30V322.80 M311.63,321.30V324.10 M314.52,321.30V322.80 M317.41,321.30V322.80 M320.29,321.30V322.80 M323.18,321.30V322.80 M326.07,321.30V324.10 M328.95,321.30V322.80 M331.84,321.30V322.80 M334.73,321.30V322.80 M337.62,321.30V322.80 M340.50,321.30V324.10 M343.39,321.30V322.80 M346.28,321.30V322.80 M349.16,321.30V322.80 M352.05,321.30V322.80 M354.94,321.30V324.10 M357.82,321.30V322.80 M360.71,321.30V322.80 M363.60,321.30V322.80 M366.48,321.30V322.80 M369.37,321.30V324.10 M372.26,321.30V322.80 M375.14,321.30V322.80 M378.03,321.30V322.80 M380.92,321.30V322.80 M383.80,321.30V324.10 M386.69,321.30V322.80 M389.58,321.30V322.80 M392.46,321.30V322.80 M395.35,321.30V322.80 M398.24,321.30V324.10 M401.12,321.30V322.80 M404.01,321.30V322.80 M406.90,321.30V322.80 M409.79,321.30V322.80 M412.67,321.30V324.10 M415.56,321.30V322.80 M418.45,321.30V322.80 M421.33,321.30V322.80 M424.22,321.30V322.80 M427.11,321.30V324.10 M429.99,321.30V322.80 M432.88,321.30V322.80 M435.77,321.30V322.80 M438.65,321.30V322.80 M441.54,321.30V324.10 M444.43,321.30V322.80 M447.31,321.30V322.80 M450.20,321.30V322.80 M453.09,321.30V322.80 M455.97,321.30V324.10 M458.86,321.30V322.80 M461.75,321.30V322.80 M464.63,321.30V322.80 M467.52,321.30V322.80 M470.41,321.30V324.10 M473.29,321.30V322.80 M476.18,321.30V322.80 M479.07,321.30V322.80 M481.96,321.30V322.80 M484.84,321.30V324.10 M487.73,321.30V322.80 M490.62,321.30V322.80 M493.50,321.30V322.80 M496.39,321.30V322.80 M499.28,321.30V324.10 M502.16,321.30V322.80 M505.05,321.30V322.80 M507.94,321.30V322.80 M510.82,321.30V322.80 M513.71,321.30V324.10" stroke="#000" stroke-width="0.8" fill="none"/>
<text x="273.6" y="203.7" class="let">D</text>
<text x="405.46" y="210.9" text-anchor="middle" class="ttl">GGT</text>
<text x="405.46" y="340.4" text-anchor="middle" class="xl">Days after BMT</text>
<text transform="translate(281.5,268.4) rotate(-90)" text-anchor="middle" class="ul">U/L</text>
<text transform="translate(442.1,301.8) scale(1,1.06)" class="nr">normal range (2-10 U/L)</text>
<path d="M462.2,218.5H474.7" stroke="#111" stroke-width="1"/>
<circle cx="468.45" cy="218.50" r="1.7" fill="#000"/>
<text x="476.7" y="220.90" class="lg">E805</text>
<path d="M462.2,228.6H474.7" stroke="#111" stroke-width="1"/>
<circle cx="468.45" cy="228.60" r="1.25" fill="#000"/>
<text x="476.7" y="231.00" class="lg">E885</text>
<path d="M462.2,237.8H474.7" stroke="#111" stroke-width="1"/>
<circle cx="468.45" cy="237.80" r="1.25" fill="#000"/>
<text x="476.7" y="240.20" class="lg">E889</text>
</svg>
</body></html>
